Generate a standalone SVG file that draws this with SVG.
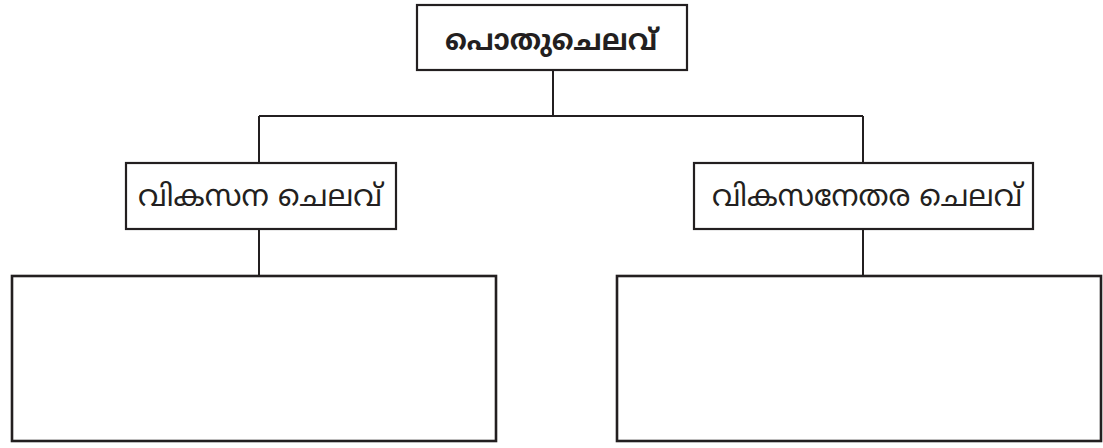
<svg xmlns="http://www.w3.org/2000/svg" width="1103" height="448" viewBox="0 0 1103 448">
<style>
.box{fill:#ffffff;stroke:#231f20;stroke-width:2.2}
.big{fill:#ffffff;stroke:#231f20;stroke-width:2.6}
.line{fill:none;stroke:#231f20;stroke-width:2}
.t{font-family:"Noto Sans Malayalam","Noto Sans","DejaVu Sans","Liberation Sans",sans-serif;fill:#231f20;text-anchor:middle}
.tb{font-size:29px;font-weight:bold}
.tn{font-size:30px}
</style>
<rect width="1103" height="448" fill="#ffffff"/>
<g id="connectors">
<path class="line" d="M553 70V116M259 116H863M259 116V163M863 116V163M259 229V276M863 229V276"/>
</g>
<g id="node-root">
<rect class="box" x="417" y="5" width="270" height="65"/>
<text class="t tb" x="551" y="50" textLength="212" lengthAdjust="spacingAndGlyphs">പൊതുചെലവ്</text>
</g>
<g id="node-dev">
<rect class="box" x="126" y="163" width="270" height="66"/>
<text class="t tn" x="260" y="206" textLength="244" lengthAdjust="spacingAndGlyphs">വികസന ചെലവ്</text>
</g>
<g id="node-nondev">
<rect class="box" x="694" y="163" width="339" height="66"/>
<text class="t tn" x="867" y="206" textLength="310" lengthAdjust="spacingAndGlyphs">വികസനേതര ചെലവ്</text>
</g>
<g id="node-dev-list">
<rect class="big" x="12" y="276" width="484" height="165"/>
</g>
<g id="node-nondev-list">
<rect class="big" x="617" y="276" width="484" height="165"/>
</g>
</svg>
